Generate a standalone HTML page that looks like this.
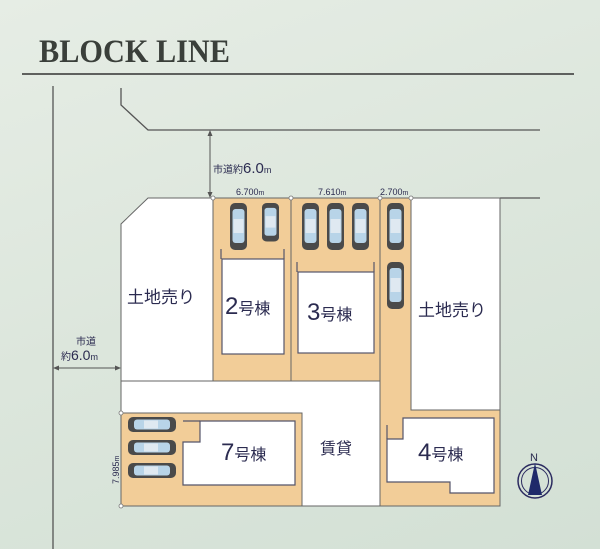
<!DOCTYPE html>
<html><head><meta charset="utf-8"><style>
html,body{margin:0;padding:0;}
body{width:600px;height:549px;overflow:hidden;background:linear-gradient(160deg,#e6ede5 0%,#dce6dc 50%,#d3e0d5 100%);}
svg{display:block;}
.t{font-family:"Liberation Sans","Noto Sans CJK JP",sans-serif;fill:#2b2b50;}
</style></head><body>
<svg width="600" height="549" viewBox="0 0 600 549" xmlns="http://www.w3.org/2000/svg">
<defs>
<g id="carV">
<rect x="0" y="0" width="17" height="47" rx="5" fill="#4a4a4a"/>
<rect x="2.5" y="6" width="12" height="34" rx="3" fill="#b8d4e8"/>
<rect x="3.5" y="16" width="10" height="14" fill="#dfe9f1"/>
</g>
<g id="carH">
<rect x="0" y="0" width="48" height="15" rx="5" fill="#4a4a4a"/>
<rect x="6" y="2.5" width="36" height="10" rx="3" fill="#b8d4e8"/>
<rect x="16" y="3.5" width="14" height="8" fill="#dfe9f1"/>
</g>
</defs>
<text x="39" y="62" font-family="Liberation Serif,serif" font-size="33" font-weight="bold" fill="#3a3f3a" textLength="191" lengthAdjust="spacingAndGlyphs">BLOCK LINE</text>
<line x1="22" y1="74" x2="574" y2="74" stroke="#333" stroke-width="1.5"/>
<!-- roads -->
<g stroke="#555" stroke-width="1.3" fill="none">
<line x1="53" y1="86" x2="53" y2="549"/>
<polyline points="121,88 121,105 148,130 540,130"/>
<line x1="500" y1="198" x2="540" y2="198"/>
</g>
<line x1="210" y1="133" x2="210" y2="195" stroke="#555"/>
<polygon points="210,130 207.5,136 212.5,136" fill="#555"/>
<polygon points="210,198 207.5,192 212.5,192" fill="#555"/>
<text class="t" x="213" y="173" font-size="10">市道約<tspan font-size="15">6.0</tspan><tspan font-size="9">m</tspan></text>
<text class="t" x="76" y="345" font-size="10">市道</text>
<text class="t" x="61" y="360" font-size="10">約<tspan font-size="14">6.0</tspan><tspan font-size="9">m</tspan></text>
<line x1="55" y1="368" x2="119" y2="368" stroke="#555"/>
<polygon points="121,368 115,365.5 115,370.5" fill="#555"/>
<polygon points="53,368 59,365.5 59,370.5" fill="#555"/>
<!-- lots -->
<g stroke="#666" stroke-width="1">
<polygon points="148,198 213,198 213,381 121,381 121,224" fill="#fff"/>
<rect x="121" y="381" width="259" height="125" fill="#fff"/>
<rect x="213" y="198" width="78" height="183" fill="#f2cd98"/>
<rect x="291" y="198" width="89" height="183" fill="#f2cd98"/>
<rect x="380" y="198" width="120" height="308" fill="#f2cd98"/>
<rect x="411" y="198" width="89" height="212" fill="#fff"/>
<rect x="121" y="413" width="181" height="93" fill="#f2cd98"/>
</g>
<!-- buildings -->
<g stroke="#55556a" stroke-width="1.2" fill="#fff">
<rect x="222" y="259" width="62" height="95"/>
<rect x="298" y="272" width="76" height="81"/>
<polygon points="200,421 295,421 295,485 183,485 183,442 200,442"/>
<polygon points="403,418 494,418 494,493 450,493 450,482 387,482 387,439 403,439"/>
</g>
<g stroke="#55556a" stroke-width="1.2">
<line x1="221" y1="249" x2="221" y2="259"/><line x1="284" y1="249" x2="284" y2="259"/>
<line x1="297" y1="262" x2="297" y2="272"/><line x1="374" y1="262" x2="374" y2="272"/>
<line x1="183" y1="421" x2="200" y2="421"/>
<line x1="387" y1="425" x2="387" y2="439"/>
</g>
<!-- dimension points -->
<g fill="#fff" stroke="#777" stroke-width="0.8">
<circle cx="213" cy="198" r="2"/><circle cx="291" cy="198" r="2"/><circle cx="380" cy="198" r="2"/><circle cx="411" cy="198" r="2"/>
<circle cx="121" cy="413" r="2"/><circle cx="121" cy="506" r="2"/>
</g>
<g class="t" font-size="9" fill="#555">
<text x="236" y="195">6.700<tspan font-size="7">m</tspan></text>
<text x="318" y="195">7.610<tspan font-size="7">m</tspan></text>
<text x="380" y="195">2.700<tspan font-size="7">m</tspan></text>
<text transform="translate(119,484) rotate(-90)">7.985<tspan font-size="7">m</tspan></text>
</g>
<!-- cars -->
<use href="#carV" x="230" y="203"/>
<use href="#carV" x="262" y="203" transform="translate(262,203) scale(1,0.82) translate(-262,-203)"/>
<use href="#carV" x="302" y="203"/>
<use href="#carV" x="327" y="203"/>
<use href="#carV" x="352" y="203"/>
<use href="#carV" x="387" y="203"/>
<use href="#carV" x="387" y="262"/>
<use href="#carH" x="128" y="417"/>
<use href="#carH" x="128" y="440"/>
<use href="#carH" x="128" y="463"/>
<!-- labels -->
<g class="t">
<text x="127" y="303" font-size="17">土地売り</text>
<text x="418" y="316" font-size="17">土地売り</text>
<text x="225" y="314"><tspan font-size="24">2</tspan><tspan font-size="16">号棟</tspan></text>
<text x="307" y="320"><tspan font-size="24">3</tspan><tspan font-size="16">号棟</tspan></text>
<text x="221" y="460"><tspan font-size="24">7</tspan><tspan font-size="16">号棟</tspan></text>
<text x="418" y="460"><tspan font-size="24">4</tspan><tspan font-size="16">号棟</tspan></text>
<text x="320" y="454" font-size="16">賃貸</text>
</g>
<!-- compass -->
<circle cx="535" cy="481" r="17" fill="none" stroke="#2b2b60" stroke-width="1.5"/>
<circle cx="535" cy="481" r="13.5" fill="none" stroke="#2b2b60" stroke-width="1"/>
<polygon points="535,463 528,495 542,495" fill="#1f2a6a"/>
<text class="t" x="530" y="461" font-size="11">N</text>
</svg>
</body></html>
